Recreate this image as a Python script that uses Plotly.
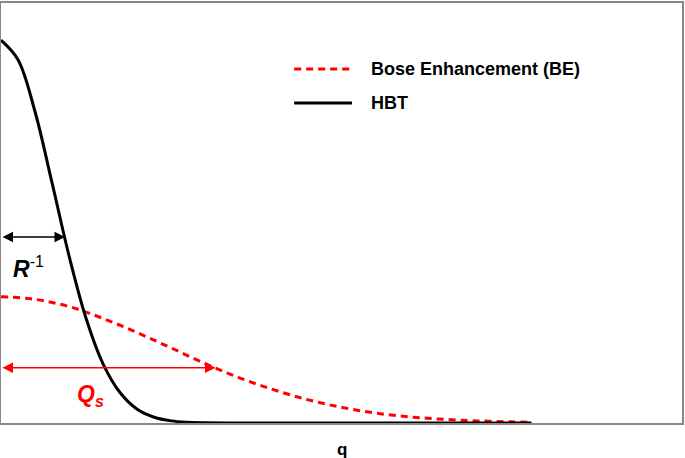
import plotly.graph_objects as go

# Values (q in arbitrary units, frame spans 0..10)
q_hbt = [0, 0.25, 0.5, 0.75, 1.0, 1.25, 1.5, 1.75, 2.0, 2.25, 2.5, 2.75, 3.0, 3.5, 4.0, 5.0, 6.0, 7.0, 7.79]
hbt = [1.0, 0.949, 0.813, 0.627, 0.436, 0.273, 0.154, 0.079, 0.036, 0.015, 0.0056, 0.0019, 0.0006, 0.0, 0.0, 0.0, 0.0, 0.0, 0.0]

q_be = [0, 0.5, 1.0, 1.5, 2.0, 2.5, 3.0, 3.5, 4.0, 4.5, 5.0, 5.5, 6.0, 6.5, 7.0, 7.5, 7.79]
be = [0.330, 0.323, 0.304, 0.273, 0.236, 0.196, 0.155, 0.118, 0.087, 0.061, 0.041, 0.026, 0.016, 0.0096, 0.0055, 0.003, 0.002]

series_names = ["Bose Enhancement (BE)", "HBT"]
series_colors = ["#ff0000", "#000000"]
series_dash = ["7px,5px", "solid"]

r_inv_width = 0.94   # R^-1 arrow extent
r_inv_level = 0.486
qs_width = 3.15      # Q_s arrow extent
qs_level = 0.144

FONT = "Liberation Sans, Arial, sans-serif"

fig = go.Figure()
fig.add_trace(go.Scatter(
    x=q_be, y=be, mode="lines", name=series_names[0],
    line=dict(color=series_colors[0], width=3, dash=series_dash[0], shape="spline"),
    showlegend=False, hoverinfo="skip"))
fig.add_trace(go.Scatter(
    x=q_hbt, y=hbt, mode="lines", name=series_names[1],
    line=dict(color=series_colors[1], width=3, dash=series_dash[1], shape="spline"),
    showlegend=False, hoverinfo="skip"))

# Legend drawn by hand (longer line samples as in the reference)
leg_x0, leg_x1, leg_tx = 0.4305, 0.5154, 0.540
leg_y = [0.843, 0.762]
for name, col, dsh, yy in zip(series_names, series_colors, series_dash, leg_y):
    fig.add_shape(type="line", xref="paper", yref="paper", x0=leg_x0, x1=leg_x1, y0=yy, y1=yy,
                  line=dict(color=col, width=3, dash=dsh))
    fig.add_annotation(x=leg_tx, y=yy, xref="paper", yref="paper", xanchor="left", yanchor="middle",
                       text="<b>" + name + "</b>", showarrow=False,
                       font=dict(family=FONT, size=18, color="#000000"))

# Double-headed arrows
fig.add_annotation(x=r_inv_width, y=r_inv_level, ax=0, ay=r_inv_level,
                   xref="x", yref="y", axref="x", ayref="y", text="",
                   showarrow=True, arrowhead=2, arrowside="end+start",
                   arrowsize=1.4, arrowwidth=1.5, arrowcolor="#000000", standoff=0, startstandoff=0)
fig.add_annotation(x=qs_width, y=qs_level, ax=0, ay=qs_level,
                   xref="x", yref="y", axref="x", ayref="y", text="",
                   showarrow=True, arrowhead=2, arrowside="end+start",
                   arrowsize=1.4, arrowwidth=1.5, arrowcolor="#ff0000", standoff=0, startstandoff=0)

fig.add_annotation(x=0.4, y=r_inv_level - 0.078, xref="x", yref="y",
                   text="<b><i>R</i></b><sup>-1</sup>", showarrow=False,
                   font=dict(family=FONT, size=23, color="#000000"))
fig.add_annotation(x=1.32, y=qs_level - 0.072, xref="x", yref="y",
                   text="<b><i>Q<sub>s</sub></i></b>", showarrow=False,
                   font=dict(family=FONT, size=23, color="#ff0000"))

fig.add_annotation(x=0.5, y=0, xref="paper", yref="paper", yanchor="top",
                   yshift=-15, text="<b>q</b>", showarrow=False,
                   font=dict(family=FONT, size=17, color="#000000"))

fig.update_xaxes(range=[0, 10], showgrid=False, zeroline=False, showticklabels=False,
                 ticks="", showline=True, mirror=True, linecolor="#888888", linewidth=2)
fig.update_yaxes(range=[0, 1.097], showgrid=False, zeroline=False, showticklabels=False,
                 ticks="", showline=True, mirror=True, linecolor="#888888", linewidth=2)

fig.update_layout(
    width=685, height=458,
    margin=dict(l=1, r=1, t=3, b=35),
    paper_bgcolor="white", plot_bgcolor="white",
    font=dict(family=FONT, size=16, color="#000000"),
    showlegend=False,
)

fig.write_html("out.html", config={"displayModeBar": False},
               post_script="document.body.style.margin='0';document.body.style.padding='0';")
